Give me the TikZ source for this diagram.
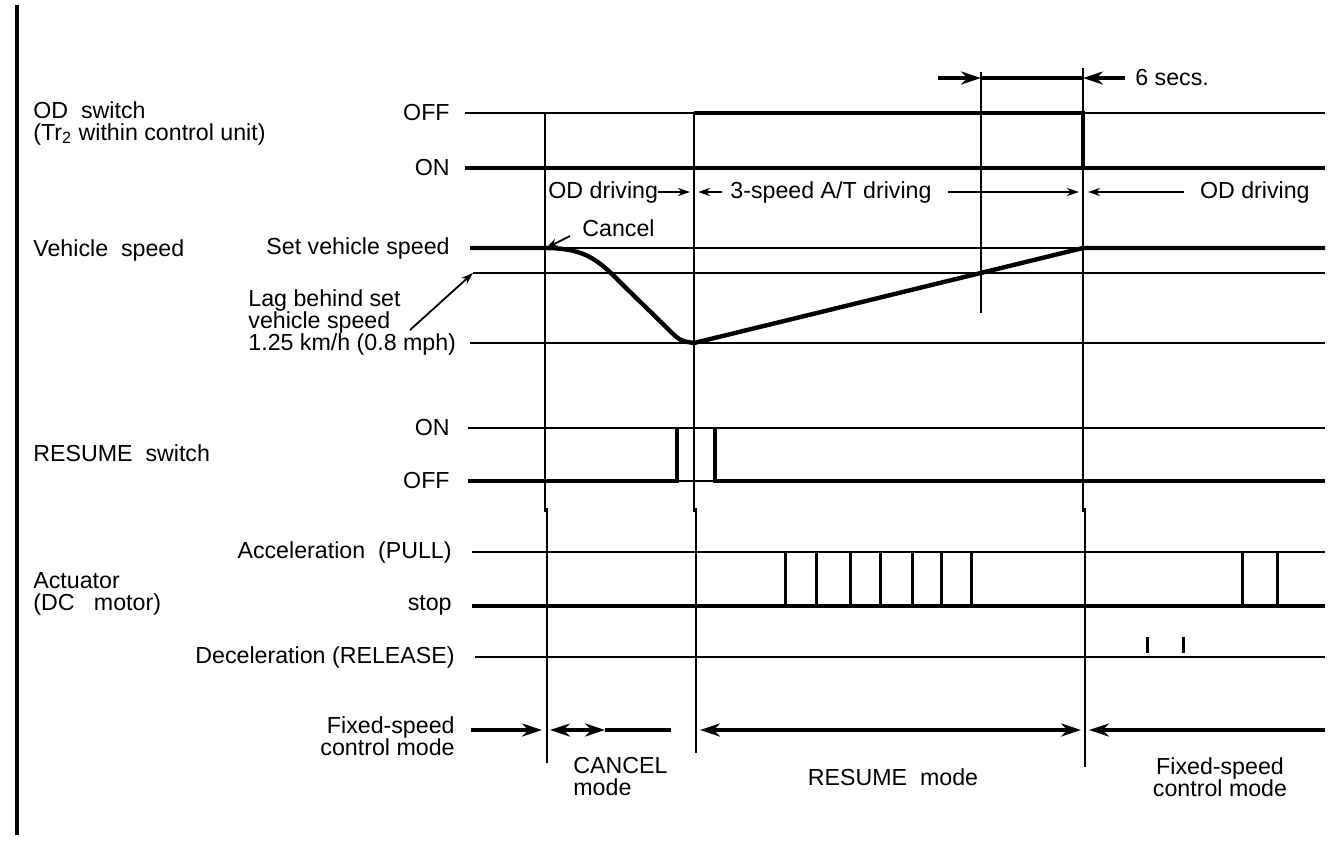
\documentclass[tikz,border=0pt]{standalone}
\usepackage{fontspec}
\setmainfont{Liberation Sans}
\usetikzlibrary{arrows.meta}

\begin{document}
\begin{tikzpicture}[x=0.5pt,y=-0.5pt]
      \tikzset{
        base/.style  = {line width=1pt},
        sig/.style   = {line width=2.2pt},
        vline/.style = {line width=0.9pt},
        pulse/.style = {line width=1.5pt},
        lbl/.style   = {font=\fontsize{11.6}{11}\selectfont, inner sep=0pt},
        lft/.style   = {lbl, anchor=west, align=left},
        rgt/.style   = {lbl, anchor=east, align=right},
        bigtip/.style   = {-{Stealth[length=10pt,width=6.5pt]}, line width=2pt},
        bothtip/.style  = {{Stealth[length=10pt,width=6.5pt]}-{Stealth[length=10pt,width=6.5pt]}, line width=2pt},
        smalltip/.style = {-{Stealth[length=6pt,width=4pt]}, line width=1.2pt}
      }
      \useasboundingbox (0,0) rectangle (1333,841);
      \draw[line width=1.6pt] (17,5) -- (17,835);

      % Labels
      \node[lft] (odsw)   at (33,123)  {OD\ \ switch\\(Tr\textsubscript{2} within control unit)};
      \node[lft] (vspd)   at (33,250)  {Vehicle\ \ speed};
      \node[lft] (ressw)  at (33,453)  {RESUME\ \ switch};
      \node[lft] (act)    at (33,594)  {Actuator\\(DC\ \ \ motor)};
      \node[rgt] (odoff)  at (450,113) {OFF};
      \node[rgt] (odon)   at (450,168) {ON};
      \node[rgt] (setspd) at (450,248) {Set vehicle speed};
      \node[lft] (lag)    at (248,322) {Lag behind set\\vehicle speed\\1.25 km/h (0.8 mph)};
      \node[rgt] (reson)  at (450,428) {ON};
      \node[rgt] (resoff) at (450,481) {OFF};
      \node[rgt] (accel)  at (452,552) {Acceleration\ \ (PULL)};
      \node[rgt] (stop)   at (452,605) {stop};
      \node[rgt] (decel)  at (455,657) {Deceleration (RELEASE)};
      \node[rgt] (fixl)   at (455,736) {Fixed-speed\\control mode};
      \node[lft] (cncl)   at (573,777) {CANCEL\\mode};
      \node[lbl] (rsm)    at (893,777) {RESUME\ \ mode};
      \node[lbl, align=center] (fixr) at (1220,777) {Fixed-speed\\control mode};
      \node[lft] (six)    at (1135,78) {6 secs.};
      \node[lft] (oddrv)  at (548,192) {OD driving};
      \node[lft] (atdrv)  at (730,192) {3-speed A/T driving};
      \node[rgt] (oddrvb) at (1310,192) {OD driving};
      \node[lft] (cancel) at (582,228) {Cancel};

      % Time marks
      \coordinate (tA) at (545,0);
      \coordinate (tB) at (694,0);
      \draw[vline] (tA |- odoff) -- (545,512);
      \draw[line width=1.2pt] (547,508) -- (547,763);
      \draw[vline] (tB |- odoff) -- (694,512);
      \draw[line width=1.2pt] (696,508) -- (696,753);
      \draw[vline] (981,72) -- (981,313);
      \draw[vline] (1083,68) -- (1083,512);
      \draw[line width=1.2pt] (1085,508) -- (1085,767);

      % Levels
      \foreach \y/\xa in {113/465, 248/470, 273/473, 343/470,
                          428/468, 481/468, 552/472, 657/475}
        \draw[base] (\xa,\y) -- (1325,\y);

      % Signals
      \draw[sig] (465,168) -- (1325,168);
      \draw[sig] (694,113) -- (1083,113) -- (1083,168);
      \draw[sig] (470,248) -- (545,248) .. controls (588,248) and (600,262) .. (625,287)
                 -- (665,326) .. controls (680,341) .. (694,343) -- (1083,248) -- (1325,248);
      \draw[sig] (468,481) -- (677,481) -- (677,428);
      \draw[sig] (715,428) -- (715,481) -- (1325,481);
      \draw[sig] (472,606) -- (1325,606);
      \foreach \x in {785,816,850,880,912,941,971,1242,1277}
        \draw[pulse] (\x,552) -- (\x,606);
      \foreach \x in {1147,1183}
        \draw[pulse] (\x,637) -- (\x,653);

      % 6 secs
      \coordinate (sA) at (981,78);
      \coordinate (sB) at (1083,78);
      \draw[bigtip] (938,78) -- (sA);
      \draw[sig] (sA) -- (sB);
      \draw[bigtip] ([xshift=-5pt]six.west) -- (sB);

      % Driving ranges
      \coordinate (dA) at (690,192);
      \coordinate (dB) at (698,192);
      \coordinate (dC) at (1079,192);
      \coordinate (dD) at (1088,192);
      \draw[smalltip] (oddrv.east) -- (dA);
      \draw[smalltip] ([xshift=-4pt]atdrv.west) -- (dB);
      \draw[smalltip] ([xshift=8pt]atdrv.east) -- (dC);
      \draw[smalltip] ([xshift=-8pt]oddrvb.west) -- (dD);

      % Pointers
      \coordinate (cnl) at (546,248);
      \coordinate (lagA) at (410,330);
      \coordinate (lagB) at (473,273);
      \draw[smalltip, line width=0.9pt] ([xshift=-6pt,yshift=-4pt]cancel.west) -- (cnl);
      \draw[smalltip, line width=0.9pt] (lagA) -- (lagB);

      % Modes
      \coordinate (mA) at (471,730);
      \coordinate (mB) at (542,730);
      \coordinate (mC) at (550,730);
      \coordinate (mM) at (578,730);
      \coordinate (mD) at (605,730);
      \coordinate (mE) at (671,730);
      \coordinate (mF) at (700,730);
      \coordinate (mG) at (1081,730);
      \coordinate (mH) at (1089,730);
      \coordinate (mI) at (1325,730);
      \draw[bigtip] (mA) -- (mB);
      \draw[bigtip] (mM) -- (mC);
      \draw[bigtip] (mM) -- (mD);
      \draw[sig] (mD) -- (mE);
      \draw[bothtip] (mF) -- (mG);
      \draw[bigtip] (mI) -- (mH);
\end{tikzpicture}
\end{document}
